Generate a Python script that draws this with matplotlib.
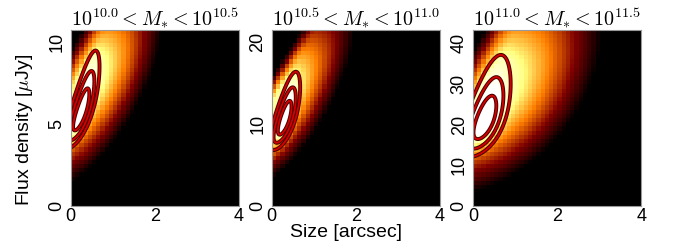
import numpy as np
import matplotlib
matplotlib.use("Agg")
import matplotlib.pyplot as plt

plt.rcParams['font.family'] = ['Liberation Sans', 'DejaVu Sans']
plt.rcParams['mathtext.fontset'] = 'cm'

# ---- data ----
titles = [r"$10^{10.0} < M_{*} < 10^{10.5}$",
          r"$10^{10.5} < M_{*} < 10^{11.0}$",
          r"$10^{11.0} < M_{*} < 10^{11.5}$"]
x_max = 4.0
y_max = [10.75, 21.5, 43.3]
x_ticks = [0, 2, 4]
y_ticks = [[0, 5, 10], [0, 10, 20], [0, 10, 20, 30, 40]]

# contoured distribution per panel: Gaussian in (size, ln flux)
core_size_mean = [0.25, 0.309, 0.276]
core_size_width = [0.128, 0.108, 0.18]
core_flux_median = [5.75, 10.56, 21.1]
core_flux_logwidth = [0.147, 0.129, 0.166]
core_corr = [0.78, 0.72, 0.62]
contour_radii = [1.51, 2.45, 3.41]

# broad background map per panel (apex, tilt, extents)
heat_size_apex = [0.29, 0.0, 0.35]
heat_flux_apex = [7.3, 11.5, 27.5]
heat_tilt = [0.17, 0.105, 0.043]
heat_right_extent = [1.5, 1.3, 2.33]
heat_left_extent = [0.7, 0.47, 0.85]
heat_upper_extent = [6.6, 13.9, 31.0]
heat_lower_extent = [6.7, 11.0, 25.4]
heat_slope = 1.1
heat_plateau = 0.8
core_peak = 0.45
core_spread = 1.6

n_cells_x, n_cells_y = 40, 42


def core_q(x, y, i):
    a = (x - core_size_mean[i]) / core_size_width[i]
    b = (np.log(y) - np.log(core_flux_median[i])) / core_flux_logwidth[i]
    r = core_corr[i]
    return (a * a - 2 * r * a * b + b * b) / (1 - r * r)


def heat_value(x, y, i):
    dy = y - heat_flux_apex[i]
    m = heat_size_apex[i] + heat_tilt[i] * dy
    dx = x - m
    zx = np.where(dx > 0, dx / heat_right_extent[i], dx / heat_left_extent[i])
    zy = np.where(dy > 0, dy / heat_upper_extent[i], dy / heat_lower_extent[i])
    z = np.sqrt(zx ** 2 + zy ** 2)
    return np.clip(np.minimum(heat_plateau, heat_slope * (1 - z)), 0, None)


fig = plt.figure(figsize=(6.73, 2.46), dpi=100)
lefts = [70.7, 271.7, 473.3]
w_px, h_px = 168.0, 175.7
bottom_px = 246 - 205.7

for i in range(3):
    ax = fig.add_axes([lefts[i] / 673, bottom_px / 246, w_px / 673, h_px / 246])
    ym = y_max[i]
    xc = (np.arange(n_cells_x) + 0.5) * x_max / n_cells_x
    yc = (np.arange(n_cells_y) + 0.5) * ym / n_cells_y
    X, Y = np.meshgrid(xc, yc)
    V = heat_value(X, Y, i) + core_peak * np.exp(-0.5 * core_q(X, Y, i) / core_spread ** 2)
    ax.imshow(V, origin='lower', extent=[0, x_max, 0, ym], aspect='auto',
              cmap='afmhot', vmin=0, vmax=1, interpolation='nearest')

    xf = np.linspace(-0.5, x_max, 600)
    yf = np.linspace(0.02, ym, 600)
    XF, YF = np.meshgrid(xf, yf)
    QF = core_q(XF, YF, i)
    lev = sorted([r * r for r in contour_radii])
    ax.contour(XF, YF, QF, levels=lev, colors='#4a0000', linewidths=2.8)
    ax.contour(XF, YF, QF, levels=lev, colors='#d40000', linewidths=1.3)

    ax.set_xlim(0, x_max)
    ax.set_ylim(0, ym)
    ax.set_xticks(x_ticks)
    ax.set_yticks(y_ticks[i])
    ax.tick_params(length=0, labelsize=13)
    ax.tick_params(axis='x', pad=1.5)
    ax.tick_params(axis='y', pad=4)
    for lab in ax.get_yticklabels():
        lab.set_rotation(90)
        lab.set_va('center')
    for sp in ax.spines.values():
        sp.set_color('#999999')
        sp.set_linewidth(0.8)
    ax.set_title(titles[i], fontsize=14.5, pad=2)

fig.text(25 / 673, 1 - 130 / 246, r"Flux density [$\mu$Jy]", fontsize=14,
         rotation=90, ha='center', va='center')
fig.text(346 / 673, 1 - 237 / 246, "Size [arcsec]", fontsize=14,
         ha='center', va='baseline')

fig.savefig("out.png", dpi=100)
